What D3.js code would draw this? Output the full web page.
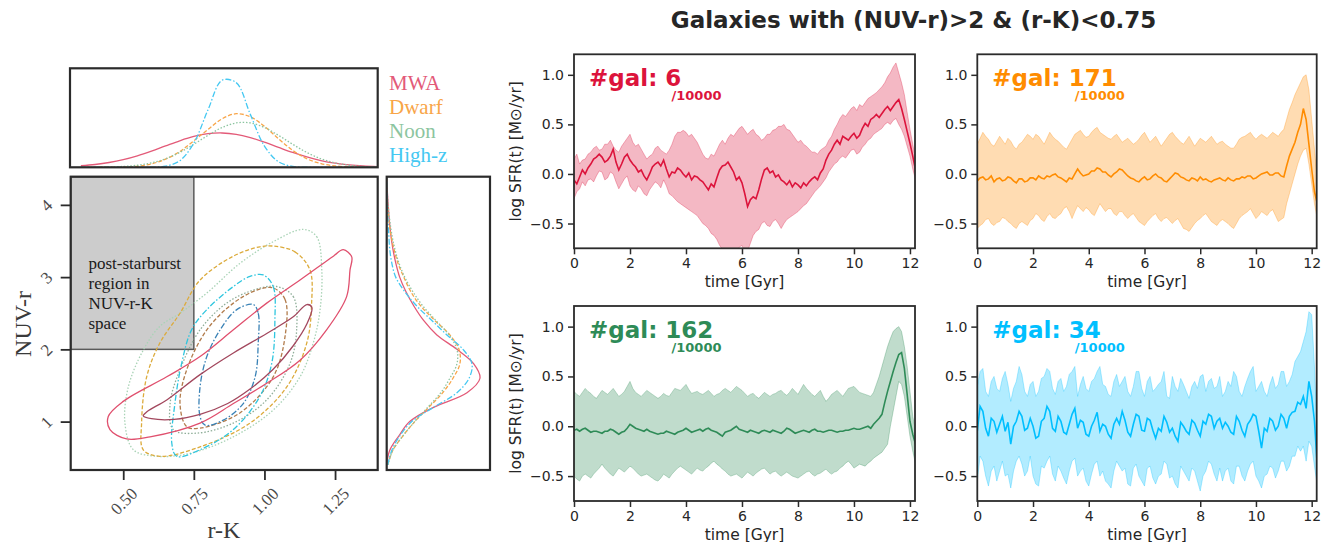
<!DOCTYPE html>
<html>
<head>
<meta charset="utf-8">
<script src="https://cdn.jsdelivr.net/npm/d3@7"></script>
<style>
  body { margin: 0; background: #fff; }
  svg { display: block; }
</style>
</head>
<body>
<svg id="fig" width="1327" height="542"></svg>
<script>
// ---------- left figure: colour-colour KDE ----------
const rkTicks = [0.5, 0.75, 1.0, 1.25];
const rkTickLabels = ["0.50", "0.75", "1.00", "1.25"];
const nuvTicks = [1, 2, 3, 4];
const nuvTickLabels = ["1", "2", "3", "4"];

// marginal KDE of r-K (top panel)
const rkGrid = [0.35, 0.40, 0.45, 0.50, 0.55, 0.60, 0.65, 0.70, 0.75, 0.80, 0.85,
                0.90, 0.95, 1.00, 1.05, 1.10, 1.15, 1.20, 1.25, 1.30, 1.35, 1.40];
const kdeTopMWA   = [0.091, 0.165, 0.281, 0.449, 0.674, 0.949, 1.253, 1.552, 1.805, 1.968, 2.010,
                     1.933, 1.741, 1.472, 1.167, 0.868, 0.606, 0.397, 0.244, 0.141, 0.076, 0.038];
const kdeTopDwarf = [0, 0.001, 0.005, 0.019, 0.06, 0.20, 0.48, 0.92, 1.55, 2.22, 2.84,
                     3.14, 2.96, 2.40, 1.67, 0.99, 0.50, 0.22, 0.08, 0.025, 0.007, 0.002];
const kdeTopNoon  = [0.002, 0.006, 0.019, 0.05, 0.12, 0.26, 0.50, 0.87, 1.35, 1.87, 2.33,
                     2.60, 2.60, 2.33, 1.87, 1.35, 0.87, 0.50, 0.26, 0.12, 0.05, 0.019];
const kdeTopHighz = [0, 0, 0, 0, 0.0001, 0.007, 0.066, 0.38, 1.42, 3.36, 5.10,
                     4.96, 3.10, 1.24, 0.32, 0.053, 0.006, 0, 0, 0, 0, 0];

// marginal KDE of NUV-r (right panel)
const nuvGrid = [0.4, 0.6, 0.8, 1.0, 1.2, 1.4, 1.6, 1.8, 2.0, 2.2, 2.4,
                 2.6, 2.8, 3.0, 3.2, 3.4, 3.6, 3.8, 4.0, 4.2, 4.4];
const kdeRightMWA   = [0.0, 0.02, 0.082, 0.156, 0.32, 0.544, 0.632, 0.59, 0.476, 0.34, 0.25,
                       0.184, 0.13, 0.088, 0.061, 0.041, 0.027, 0.017, 0.01, 0.004, 0];
const kdeRightDwarf = [0.007, 0.041, 0.109, 0.19, 0.286, 0.38, 0.449, 0.496, 0.49, 0.428, 0.326,
                       0.231, 0.163, 0.116, 0.075, 0.048, 0.027, 0.014, 0.005, 0.001, 0];
const kdeRightNoon  = [0.007, 0.041, 0.109, 0.19, 0.279, 0.367, 0.428, 0.476, 0.476, 0.422, 0.333,
                       0.245, 0.177, 0.122, 0.082, 0.054, 0.034, 0.02, 0.01, 0.003, 0];
const kdeRightHighz = [0.007, 0.034, 0.088, 0.17, 0.32, 0.476, 0.558, 0.578, 0.517, 0.408, 0.306,
                       0.204, 0.122, 0.061, 0.034, 0.02, 0.014, 0.008, 0.003, 0.001, 0];

// 2D KDE contours [r-K, NUV-r]
const mwaOuter = [[0.447,1.07],[0.453,0.89],[0.512,0.76],[0.595,0.79],[0.772,0.98],[0.890,1.25],
  [1.008,1.53],[1.126,1.85],[1.220,2.27],[1.291,2.73],[1.303,3.10],[1.309,3.28],[1.279,3.38],
  [1.244,3.29],[1.126,2.96],[1.008,2.64],[0.890,2.27],[0.772,1.90],[0.654,1.62],[0.500,1.28]];
const mwaInner = [[0.571,1.08],[0.600,1.04],[0.680,1.03],[0.772,1.10],[0.870,1.25],[0.949,1.45],
  [1.030,1.72],[1.102,2.05],[1.150,2.35],[1.168,2.58],[1.150,2.62],[1.102,2.45],[1.008,2.22],
  [0.890,1.95],[0.772,1.65],[0.654,1.30],[0.585,1.14]];
const dwarfOuter = [[1.031,3.43],[1.108,3.35],[1.161,3.10],[1.167,2.64],[1.150,2.09],[1.079,1.48],
  [0.949,0.98],[0.772,0.65],[0.630,0.52],[0.571,0.61],[0.565,0.98],[0.583,1.62],[0.630,2.09],
  [0.701,2.50],[0.772,2.96],[0.890,3.29],[0.984,3.42]];
const dwarfInner = [[1.031,2.85],[1.073,2.69],[1.073,2.18],[1.031,1.62],[0.913,1.12],[0.772,0.91],
  [0.725,0.93],[0.701,1.25],[0.725,1.72],[0.796,2.27],[0.890,2.64],[0.973,2.82]];
const noonOuter = [[1.138,3.66],[1.185,3.56],[1.203,3.10],[1.197,2.55],[1.173,2.09],[1.126,1.62],
  [1.031,1.16],[0.890,0.79],[0.736,0.56],[0.618,0.52],[0.536,0.61],[0.506,0.98],[0.518,1.48],
  [0.571,1.99],[0.630,2.32],[0.701,2.50],[0.796,2.78],[0.913,3.19],[1.031,3.49]];
const noonInner = [[1.043,2.87],[1.102,2.73],[1.114,2.27],[1.091,1.81],[1.008,1.30],[0.890,0.98],
  [0.760,0.84],[0.677,0.89],[0.666,1.25],[0.701,1.72],[0.772,2.27],[0.866,2.64],[0.961,2.82]];
const hzOuter = [[0.996,3.03],[1.031,2.87],[1.037,2.41],[1.026,1.81],[0.984,1.35],[0.890,0.89],
  [0.772,0.61],[0.689,0.52],[0.672,0.70],[0.683,1.25],[0.707,1.81],[0.742,2.27],[0.796,2.55],
  [0.890,2.87],[0.949,3.01]];
const hzInner = [[0.961,2.62],[0.978,2.50],[0.978,2.09],[0.967,1.62],[0.925,1.25],[0.854,1.02],
  [0.790,0.95],[0.772,1.07],[0.772,1.48],[0.796,1.90],[0.843,2.27],[0.902,2.55]];

// ---------- right figure: SFR histories (every 0.1 Gyr) ----------
const times = [0, 0.1, 0.2, 0.3, 0.4, 0.5, 0.6, 0.7, 0.8, 0.9,
  1.0, 1.1, 1.2, 1.3, 1.4, 1.5, 1.6, 1.7, 1.8, 1.9, 2.0, 2.1, 2.2, 2.3, 2.4, 2.5, 2.6, 2.7, 2.8, 2.9,
  3.0, 3.1, 3.2, 3.3, 3.4, 3.5, 3.6, 3.7, 3.8, 3.9, 4.0, 4.1, 4.2, 4.3, 4.4, 4.5, 4.6, 4.7, 4.8, 4.9,
  5.0, 5.1, 5.2, 5.3, 5.4, 5.5, 5.6, 5.7, 5.8, 5.9, 6.0, 6.1, 6.2, 6.3, 6.4, 6.5, 6.6, 6.7, 6.8, 6.9,
  7.0, 7.1, 7.2, 7.3, 7.4, 7.5, 7.6, 7.7, 7.8, 7.9, 8.0, 8.1, 8.2, 8.3, 8.4, 8.5, 8.6, 8.7, 8.8, 8.9,
  9.0, 9.1, 9.2, 9.3, 9.4, 9.5, 9.6, 9.7, 9.8, 9.9, 10.0, 10.1, 10.2, 10.3, 10.4, 10.5, 10.6, 10.7, 10.8, 10.9,
  11.0, 11.1, 11.2, 11.3, 11.4, 11.5, 11.6, 11.7, 11.8, 11.9, 12.0, 12.1, 12.2];
const sfrXTicks = [0, 2, 4, 6, 8, 10, 12];
const sfrYTicks = [-0.5, 0, 0.5, 1.0];

const mwaMean = [-0.06, -0.10, -0.03, 0.04, 0.00, 0.06, 0.10, 0.15, 0.17, 0.20,
  0.17, 0.12, 0.14, 0.18, 0.25, 0.12, 0.04, 0.10, 0.17, 0.20,
  0.14, 0.10, 0.07, 0.02, 0.04, -0.02, -0.06, 0.00, 0.07, 0.10,
  0.12, 0.08, 0.14, 0.05, -0.03, 0.02, 0.01, 0.06, 0.04, 0.00,
  -0.03, 0.01, -0.06, -0.02, -0.03, -0.06, -0.08, -0.12, -0.16, -0.10,
  -0.13, -0.04, 0.04, 0.08, 0.09, 0.12, 0.07, 0.02, -0.06, -0.03,
  -0.09, -0.20, -0.33, -0.26, -0.23, -0.25, -0.16, -0.05, 0.04, 0.06,
  0.01, 0.03, -0.03, -0.01, -0.06, -0.08, -0.11, -0.07, -0.13, -0.09,
  -0.11, -0.14, -0.09, -0.12, -0.08, -0.05, -0.03, -0.06, 0.01, 0.05,
  0.14, 0.20, 0.24, 0.30, 0.34, 0.30, 0.38, 0.36, 0.34, 0.38,
  0.41, 0.36, 0.39, 0.46, 0.51, 0.48, 0.55, 0.57, 0.60, 0.57,
  0.61, 0.65, 0.68, 0.64, 0.68, 0.72, 0.75, 0.66, 0.55, 0.43,
  0.31, 0.18, 0.04];
const mwaLo = [-0.25, -0.18, -0.15, -0.08, -0.12, -0.06, -0.05, -0.08, -0.02, 0.03,
  0.02, -0.06, -0.04, 0.02, 0.00, -0.08, -0.15, -0.10, -0.05, -0.02,
  -0.12, -0.16, -0.18, -0.12, -0.15, -0.20, -0.22, -0.16, -0.12, -0.08,
  -0.10, -0.14, -0.06, -0.12, -0.20, -0.22, -0.25, -0.28, -0.30, -0.32,
  -0.34, -0.36, -0.38, -0.40, -0.42, -0.46, -0.50, -0.52, -0.55, -0.60,
  -0.62, -0.66, -0.72, -0.76, -0.80, -0.84, -0.82, -0.80, -0.78, -0.74,
  -0.72, -0.80, -0.78, -0.70, -0.62, -0.58, -0.56, -0.50, -0.48, -0.52,
  -0.53, -0.48, -0.46, -0.50, -0.55, -0.50, -0.46, -0.44, -0.42, -0.40,
  -0.38, -0.35, -0.32, -0.30, -0.26, -0.22, -0.18, -0.15, -0.12, -0.08,
  -0.04, 0.02, 0.06, 0.10, 0.12, 0.16, 0.18, 0.16, 0.20, 0.24,
  0.25, 0.20, 0.22, 0.27, 0.30, 0.34, 0.36, 0.40, 0.42, 0.44,
  0.46, 0.50, 0.52, 0.50, 0.54, 0.56, 0.50, 0.45, 0.38, 0.28,
  0.18, 0.05, -0.06];
const mwaHi = [0.15, 0.20, 0.10, 0.14, 0.15, 0.20, 0.22, 0.26, 0.28, 0.24,
  0.25, 0.30, 0.30, 0.34, 0.28, 0.24, 0.22, 0.28, 0.32, 0.36,
  0.40, 0.32, 0.28, 0.30, 0.25, 0.20, 0.15, 0.18, 0.20, 0.26,
  0.28, 0.24, 0.22, 0.20, 0.24, 0.30, 0.38, 0.42, 0.42, 0.44,
  0.42, 0.38, 0.40, 0.36, 0.32, 0.26, 0.20, 0.16, 0.15, 0.20,
  0.18, 0.24, 0.30, 0.34, 0.30, 0.36, 0.40, 0.38, 0.42, 0.46,
  0.48, 0.44, 0.40, 0.43, 0.45, 0.40, 0.38, 0.34, 0.36, 0.40,
  0.40, 0.44, 0.45, 0.48, 0.48, 0.50, 0.45, 0.44, 0.40, 0.36,
  0.32, 0.34, 0.30, 0.28, 0.25, 0.22, 0.22, 0.20, 0.24, 0.26,
  0.28, 0.34, 0.38, 0.45, 0.50, 0.56, 0.60, 0.58, 0.62, 0.66,
  0.68, 0.64, 0.70, 0.68, 0.72, 0.76, 0.78, 0.80, 0.82, 0.85,
  0.88, 0.92, 0.98, 1.02, 1.08, 1.12, 1.02, 0.92, 0.80, 0.62,
  0.45, 0.30, 0.15];

const dwarfMean = [-0.07, -0.04, -0.03, -0.06, -0.05, -0.02, -0.08, -0.05, -0.04, -0.07,
  -0.06, -0.03, -0.04, -0.07, -0.09, -0.05, -0.05, -0.08, -0.07, -0.04,
  -0.04, -0.06, -0.02, -0.04, -0.05, -0.02, -0.03, -0.01, 0.00, -0.03,
  -0.04, -0.06, -0.08, -0.04, -0.05, 0.00, 0.05, 0.01, -0.02, -0.01,
  0.00, 0.03, 0.03, 0.06, 0.05, 0.02, 0.02, -0.01, -0.03, 0.00,
  0.02, 0.05, 0.04, 0.01, -0.02, -0.04, -0.05, -0.07, -0.08, -0.05,
  -0.03, -0.06, -0.05, -0.02, 0.00, -0.03, -0.04, -0.07, -0.08, -0.05,
  -0.02, 0.01, 0.00, -0.03, -0.04, -0.06, -0.07, -0.04, -0.05, -0.07,
  -0.03, -0.06, -0.05, -0.07, -0.08, -0.06, -0.05, -0.04, -0.06, -0.07,
  -0.04, -0.06, -0.07, -0.05, -0.05, -0.03, -0.04, -0.02, -0.02, -0.05,
  -0.04, -0.02, 0.00, 0.01, 0.02, -0.01, -0.01, 0.01, 0.01, -0.02,
  -0.03, 0.08, 0.18, 0.25, 0.32, 0.42, 0.50, 0.66, 0.55, 0.30,
  0.05, -0.18, -0.30];
const dwarfLo = [-0.55, -0.52, -0.50, -0.46, -0.45, -0.50, -0.52, -0.49, -0.48, -0.44,
  -0.45, -0.48, -0.50, -0.53, -0.55, -0.50, -0.48, -0.50, -0.52, -0.47,
  -0.45, -0.40, -0.42, -0.46, -0.48, -0.43, -0.40, -0.44, -0.45, -0.42,
  -0.40, -0.35, -0.33, -0.38, -0.45, -0.38, -0.32, -0.35, -0.38, -0.34,
  -0.36, -0.40, -0.42, -0.36, -0.30, -0.34, -0.38, -0.35, -0.35, -0.40,
  -0.42, -0.38, -0.38, -0.42, -0.45, -0.42, -0.40, -0.44, -0.48, -0.50,
  -0.52, -0.48, -0.45, -0.42, -0.40, -0.45, -0.48, -0.45, -0.44, -0.47,
  -0.50, -0.47, -0.45, -0.50, -0.55, -0.56, -0.58, -0.54, -0.50, -0.47,
  -0.45, -0.42, -0.40, -0.44, -0.48, -0.50, -0.52, -0.48, -0.46, -0.48,
  -0.50, -0.53, -0.55, -0.50, -0.45, -0.42, -0.40, -0.38, -0.35, -0.40,
  -0.45, -0.42, -0.38, -0.40, -0.42, -0.38, -0.36, -0.42, -0.48, -0.46,
  -0.44, -0.30, -0.20, -0.10, 0.00, 0.10, 0.18, 0.24, 0.26, 0.10,
  -0.10, -0.30, -0.45];
const dwarfHi = [0.30, 0.36, 0.42, 0.38, 0.35, 0.30, 0.28, 0.33, 0.38, 0.34,
  0.30, 0.36, 0.33, 0.28, 0.25, 0.30, 0.32, 0.36, 0.40, 0.38,
  0.35, 0.40, 0.38, 0.34, 0.30, 0.36, 0.42, 0.38, 0.35, 0.33,
  0.30, 0.27, 0.25, 0.30, 0.35, 0.40, 0.42, 0.44, 0.40, 0.37,
  0.38, 0.42, 0.45, 0.47, 0.42, 0.40, 0.38, 0.36, 0.35, 0.38,
  0.40, 0.36, 0.32, 0.34, 0.36, 0.33, 0.30, 0.32, 0.35, 0.39,
  0.42, 0.37, 0.32, 0.35, 0.38, 0.33, 0.28, 0.32, 0.36, 0.40,
  0.42, 0.38, 0.35, 0.32, 0.30, 0.34, 0.38, 0.33, 0.28, 0.32,
  0.36, 0.34, 0.32, 0.35, 0.38, 0.34, 0.30, 0.32, 0.33, 0.30,
  0.28, 0.26, 0.26, 0.30, 0.35, 0.37, 0.38, 0.40, 0.42, 0.38,
  0.35, 0.38, 0.40, 0.38, 0.36, 0.39, 0.42, 0.40, 0.38, 0.42,
  0.45, 0.55, 0.65, 0.72, 0.80, 0.86, 0.92, 0.98, 1.00, 0.85,
  0.55, 0.25, -0.05];

const noonMean = [-0.04, -0.03, -0.05, -0.03, -0.02, -0.04, -0.06, -0.05, -0.05, -0.06,
  -0.07, -0.05, -0.05, -0.03, -0.04, -0.06, -0.08, -0.06, -0.05, -0.02,
  0.02, 0.00, -0.02, -0.03, -0.04, -0.05, -0.03, -0.05, -0.06, -0.07,
  -0.08, -0.07, -0.07, -0.05, -0.06, -0.07, -0.08, -0.06, -0.05, -0.04,
  -0.02, -0.04, -0.06, -0.05, -0.04, -0.03, -0.05, -0.03, -0.02, -0.04,
  -0.05, -0.06, -0.08, -0.10, -0.06, -0.05, -0.04, -0.02, 0.00, -0.03,
  -0.04, -0.05, -0.06, -0.04, -0.05, -0.06, -0.07, -0.05, -0.04, -0.05,
  -0.06, -0.04, -0.05, -0.06, -0.07, -0.05, -0.02, -0.03, -0.05, -0.07,
  -0.06, -0.05, -0.04, -0.05, -0.06, -0.04, -0.03, -0.05, -0.05, -0.06,
  -0.05, -0.04, -0.04, -0.05, -0.06, -0.05, -0.05, -0.04, -0.04, -0.03,
  -0.02, -0.03, -0.03, -0.02, -0.01, 0.00, -0.02, 0.02, 0.05, 0.08,
  0.12, 0.24, 0.35, 0.45, 0.55, 0.64, 0.72, 0.74, 0.58, 0.32,
  0.05, -0.08, -0.18];
const noonLo = [-0.50, -0.53, -0.55, -0.50, -0.48, -0.50, -0.52, -0.48, -0.45, -0.42,
  -0.38, -0.42, -0.45, -0.48, -0.50, -0.46, -0.42, -0.44, -0.46, -0.43,
  -0.40, -0.42, -0.45, -0.48, -0.50, -0.49, -0.48, -0.50, -0.52, -0.54,
  -0.55, -0.52, -0.48, -0.50, -0.52, -0.48, -0.45, -0.42, -0.40, -0.42,
  -0.44, -0.46, -0.48, -0.45, -0.42, -0.44, -0.45, -0.42, -0.40, -0.37,
  -0.35, -0.38, -0.40, -0.43, -0.45, -0.48, -0.50, -0.49, -0.48, -0.50,
  -0.52, -0.49, -0.46, -0.48, -0.50, -0.47, -0.45, -0.43, -0.42, -0.45,
  -0.48, -0.46, -0.45, -0.48, -0.50, -0.48, -0.46, -0.48, -0.50, -0.51,
  -0.52, -0.50, -0.48, -0.46, -0.45, -0.48, -0.50, -0.48, -0.47, -0.45,
  -0.43, -0.46, -0.48, -0.46, -0.45, -0.42, -0.40, -0.37, -0.35, -0.38,
  -0.42, -0.40, -0.38, -0.39, -0.40, -0.37, -0.35, -0.32, -0.30, -0.28,
  -0.26, -0.22, -0.18, 0.00, 0.15, 0.30, 0.45, 0.42, 0.30, 0.10,
  -0.10, -0.25, -0.38];
const noonHi = [0.35, 0.32, 0.30, 0.34, 0.38, 0.35, 0.33, 0.30, 0.28, 0.32,
  0.36, 0.34, 0.32, 0.35, 0.38, 0.34, 0.30, 0.32, 0.35, 0.40,
  0.45, 0.38, 0.34, 0.32, 0.30, 0.33, 0.36, 0.34, 0.32, 0.30,
  0.28, 0.30, 0.33, 0.31, 0.30, 0.34, 0.38, 0.37, 0.36, 0.39,
  0.42, 0.37, 0.33, 0.34, 0.35, 0.33, 0.32, 0.34, 0.36, 0.33,
  0.30, 0.32, 0.33, 0.36, 0.38, 0.36, 0.34, 0.37, 0.40, 0.38,
  0.36, 0.33, 0.30, 0.32, 0.33, 0.30, 0.28, 0.31, 0.34, 0.32,
  0.30, 0.32, 0.33, 0.35, 0.36, 0.33, 0.31, 0.34, 0.38, 0.35,
  0.32, 0.37, 0.42, 0.38, 0.35, 0.32, 0.30, 0.33, 0.36, 0.30,
  0.25, 0.28, 0.32, 0.34, 0.36, 0.33, 0.30, 0.34, 0.38, 0.39,
  0.40, 0.37, 0.34, 0.33, 0.32, 0.31, 0.30, 0.34, 0.42, 0.50,
  0.60, 0.70, 0.80, 0.88, 0.95, 0.98, 1.00, 0.95, 0.80, 0.60,
  0.35, 0.10, -0.05];

const hzMean = [-0.05, 0.20, 0.15, -0.02, -0.10, 0.08, 0.05, -0.06, 0.02, 0.10,
  -0.05, 0.04, -0.18, 0.00, 0.05, 0.15, 0.10, -0.04, -0.02, 0.08,
  0.00, -0.12, -0.10, 0.05, 0.08, 0.20, 0.15, -0.02, -0.05, 0.10,
  0.05, -0.06, -0.08, 0.02, 0.12, 0.18, -0.02, 0.06, 0.04, -0.08,
  -0.10, 0.00, 0.06, 0.14, -0.05, 0.02, 0.00, -0.08, -0.12, 0.02,
  0.08, 0.02, 0.15, 0.06, -0.06, -0.10, 0.02, 0.12, 0.10, -0.04,
  -0.05, 0.08, 0.06, -0.04, -0.12, -0.02, -0.05, 0.10, 0.04, -0.06,
  -0.02, -0.10, -0.15, 0.04, 0.00, -0.05, -0.08, 0.06, 0.03, -0.04,
  -0.10, 0.05, 0.02, 0.12, 0.10, -0.02, 0.05, 0.08, -0.02, 0.04,
  0.00, -0.06, -0.08, 0.10, 0.05, -0.04, -0.10, 0.02, 0.06, 0.12,
  0.10, -0.05, -0.22, -0.02, -0.05, 0.08, 0.05, -0.04, 0.00, 0.12,
  0.08, -0.02, 0.10, 0.14, 0.15, 0.24, 0.22, 0.30, 0.18, 0.45,
  0.30, 0.05, -0.40];
const hzLo = [-0.55, -0.30, -0.35, -0.50, -0.60, -0.45, -0.40, -0.55, -0.45, -0.35,
  -0.50, -0.48, -0.62, -0.45, -0.35, -0.30, -0.38, -0.50, -0.45, -0.30,
  -0.50, -0.58, -0.60, -0.40, -0.42, -0.35, -0.30, -0.48, -0.55, -0.40,
  -0.45, -0.52, -0.58, -0.45, -0.35, -0.32, -0.50, -0.45, -0.42, -0.55,
  -0.60, -0.48, -0.38, -0.35, -0.50, -0.45, -0.55, -0.58, -0.62, -0.45,
  -0.35, -0.40, -0.45, -0.42, -0.58, -0.60, -0.42, -0.38, -0.50, -0.55,
  -0.60, -0.42, -0.40, -0.52, -0.58, -0.50, -0.48, -0.35, -0.38, -0.52,
  -0.50, -0.58, -0.62, -0.40, -0.45, -0.50, -0.55, -0.42, -0.45, -0.55,
  -0.65, -0.50, -0.45, -0.35, -0.38, -0.48, -0.55, -0.42, -0.55, -0.45,
  -0.42, -0.55, -0.58, -0.40, -0.40, -0.50, -0.55, -0.45, -0.38, -0.35,
  -0.50, -0.55, -0.62, -0.50, -0.48, -0.40, -0.42, -0.52, -0.45, -0.35,
  -0.35, -0.45, -0.40, -0.30, -0.30, -0.20, -0.25, -0.20, -0.35, -0.15,
  -0.20, -0.40, -0.60];
const hzHi = [0.40, 0.55, 0.58, 0.35, 0.30, 0.45, 0.50, 0.38, 0.35, 0.48,
  0.55, 0.42, 0.25, 0.38, 0.45, 0.60, 0.52, 0.35, 0.30, 0.42,
  0.45, 0.30, 0.35, 0.48, 0.50, 0.58, 0.55, 0.38, 0.32, 0.45,
  0.48, 0.35, 0.40, 0.52, 0.55, 0.60, 0.30, 0.42, 0.50, 0.38,
  0.35, 0.45, 0.48, 0.55, 0.60, 0.42, 0.40, 0.32, 0.30, 0.45,
  0.52, 0.40, 0.45, 0.50, 0.35, 0.30, 0.40, 0.55, 0.55, 0.38,
  0.30, 0.45, 0.50, 0.35, 0.38, 0.42, 0.45, 0.55, 0.30, 0.28,
  0.50, 0.40, 0.35, 0.48, 0.42, 0.35, 0.28, 0.40, 0.45, 0.38,
  0.50, 0.52, 0.35, 0.45, 0.48, 0.38, 0.40, 0.50, 0.30, 0.35,
  0.45, 0.40, 0.55, 0.50, 0.35, 0.30, 0.40, 0.48, 0.55, 0.60,
  0.35, 0.40, 0.45, 0.35, 0.30, 0.42, 0.50, 0.38, 0.42, 0.55,
  0.55, 0.40, 0.45, 0.52, 0.65, 0.70, 0.75, 0.85, 0.95, 1.15,
  1.12, 0.60, -0.10];

const galCounts = [6, 171, 162, 34];

// ---------- drawing ----------
const svg = d3.select("#fig");
const serif = "'Liberation Serif', 'Times New Roman', serif";
const sans = "'DejaVu Sans', sans-serif";
const frameColor = "#2b2b2b";

const defs = svg.append("defs");
function clipRect(id, x0, y0, x1, y1) {
  defs.append("clipPath").attr("id", id)
    .append("rect").attr("x", x0).attr("y", y0).attr("width", x1 - x0).attr("height", y1 - y0);
  return `url(#${id})`;
}

// left scales
const xRK = d3.scaleLinear().domain([0.314, 1.401]).range([70.7, 377.7]);
const yNUV = d3.scaleLinear().domain([0.33, 4.39]).range([470, 176.7]);
const yTop = d3.scaleLinear().domain([0, 5.8]).range([167.3, 68.3]);
const xRight = d3.scaleLinear().domain([0, 0.70]).range([386.7, 490]);

// grey post-starburst region
svg.append("rect")
  .attr("x", xRK(0.314)).attr("y", yNUV(4.39))
  .attr("width", xRK(0.75) - xRK(0.314)).attr("height", yNUV(2) - yNUV(4.39))
  .attr("fill", "#cccccc").attr("stroke", "#5a5a5a").attr("stroke-width", 1.5);

const psText = ["post-starburst", "region in", "NUV-r-K", "space"];
svg.append("g").selectAll("text").data(psText).enter().append("text")
  .attr("x", 88.5).attr("y", (d, i) => 268.5 + i * 20.3)
  .attr("font-family", serif).attr("font-size", "17px").attr("fill", "#1a1a1a")
  .text(d => d);

// contours
const contourLine = d3.line().x(d => xRK(d[0])).y(d => yNUV(d[1]))
  .curve(d3.curveCatmullRomClosed.alpha(0.5));
const contours = [
  { pts: noonOuter, color: "#a9d3b6", dash: "1.5,1.8" },
  { pts: noonInner, color: "#8fae99", dash: "1.5,1.8" },
  { pts: dwarfOuter, color: "#dcab3c", dash: "4,2" },
  { pts: dwarfInner, color: "#b27c4c", dash: "4,2" },
  { pts: hzOuter, color: "#2fc6df", dash: "6,2,1.5,2" },
  { pts: hzInner, color: "#3a82b6", dash: "6,2,1.5,2" },
  { pts: mwaOuter, color: "#e0506e", dash: null },
  { pts: mwaInner, color: "#a3485e", dash: null }
];
const mainClip = clipRect("clipMain", 70.7, 176.7, 377.7, 470);
svg.append("g").attr("clip-path", mainClip).selectAll("path").data(contours).enter()
  .append("path")
  .attr("d", d => contourLine(d.pts))
  .attr("fill", "none").attr("stroke", d => d.color).attr("stroke-width", 1.3)
  .attr("stroke-dasharray", d => d.dash);

// main frame + ticks
svg.append("rect").attr("x", 70.7).attr("y", 176.7).attr("width", 307).attr("height", 293.3)
  .attr("fill", "none").attr("stroke", frameColor).attr("stroke-width", 2.2);

const xAxL = svg.append("g").attr("transform", "translate(0,470)")
  .call(d3.axisBottom(xRK).tickValues(rkTicks).tickSize(10).tickFormat((d, i) => rkTickLabels[i]));
xAxL.select(".domain").remove();
xAxL.selectAll("line").attr("stroke", frameColor).attr("stroke-width", 1.8);
xAxL.selectAll("text").attr("y", 0).attr("dy", "0.35em")
  .attr("transform", "translate(0,31) rotate(-45)")
  .attr("font-family", serif).attr("font-size", "17px").attr("fill", "#4a4a4a");

const yAxL = svg.append("g").attr("transform", "translate(70.7,0)")
  .call(d3.axisLeft(yNUV).tickValues(nuvTicks).tickSize(10).tickFormat((d, i) => nuvTickLabels[i]));
yAxL.select(".domain").remove();
yAxL.selectAll("line").attr("stroke", frameColor).attr("stroke-width", 1.8);
yAxL.selectAll("text").attr("x", 0).attr("dy", "0.35em").attr("text-anchor", "middle")
  .attr("transform", "translate(-24.5,0) rotate(-45)")
  .attr("font-family", serif).attr("font-size", "17px").attr("fill", "#4a4a4a");

svg.append("text").attr("x", 224).attr("y", 538).attr("text-anchor", "middle")
  .attr("font-family", serif).attr("font-size", "24px").attr("fill", "#3a3a3a").text("r-K");
svg.append("text").attr("transform", "translate(31,324) rotate(-90)").attr("text-anchor", "middle")
  .attr("font-family", serif).attr("font-size", "24px").attr("fill", "#3a3a3a").text("NUV-r");

// marginal KDEs
const margStyles = [
  { name: "MWA", color: "#e35a78", dash: null, top: kdeTopMWA, right: kdeRightMWA },
  { name: "Dwarf", color: "#f8a548", dash: "4,2", top: kdeTopDwarf, right: kdeRightDwarf },
  { name: "Noon", color: "#8cc5a0", dash: "1.5,1.8", top: kdeTopNoon, right: kdeRightNoon },
  { name: "High-z", color: "#45c8f2", dash: "6,2,1.5,2", top: kdeTopHighz, right: kdeRightHighz }
];
const topClip = clipRect("clipTop", 70, 68.3, 377.7, 167.3);
const topLine = d3.line().x((d, i) => xRK(rkGrid[i])).y(d => yTop(d))
  .curve(d3.curveCatmullRom.alpha(0.5));
svg.append("g").attr("clip-path", topClip).selectAll("path").data(margStyles).enter()
  .append("path").attr("d", d => topLine(d.top))
  .attr("fill", "none").attr("stroke", d => d.color).attr("stroke-width", 1.3)
  .attr("stroke-dasharray", d => d.dash);
svg.append("rect").attr("x", 70).attr("y", 68.3).attr("width", 307.7).attr("height", 99)
  .attr("fill", "none").attr("stroke", frameColor).attr("stroke-width", 2.2);

const rightClip = clipRect("clipRight", 386.7, 176.7, 490, 470);
const rightLine = d3.line().x(d => xRight(d)).y((d, i) => yNUV(nuvGrid[i]))
  .curve(d3.curveCatmullRom.alpha(0.5));
svg.append("g").attr("clip-path", rightClip).selectAll("path").data(margStyles).enter()
  .append("path").attr("d", d => rightLine(d.right))
  .attr("fill", "none").attr("stroke", d => d.color).attr("stroke-width", 1.3)
  .attr("stroke-dasharray", d => d.dash);
svg.append("rect").attr("x", 386.7).attr("y", 176.7).attr("width", 103.3).attr("height", 293.3)
  .attr("fill", "none").attr("stroke", frameColor).attr("stroke-width", 2.2);

// legend
svg.append("g").selectAll("text").data(margStyles).enter().append("text")
  .attr("x", 389).attr("y", (d, i) => 90 + i * 24)
  .attr("font-family", serif).attr("font-size", "21px").attr("fill", d => d.color)
  .text(d => d.name);

// ---------- SFR panels ----------
svg.append("text").attr("x", 913.5).attr("y", 28).attr("text-anchor", "middle")
  .attr("font-family", sans).attr("font-weight", "bold").attr("font-size", "23px")
  .attr("fill", "#262626").text("Galaxies with (NUV-r)>2 & (r-K)<0.75");

const panels = [
  { x0: 574, x1: 915, y0: 54.3, y1: 248.3, mean: mwaMean, lo: mwaLo, hi: mwaHi, color: "#dc143c", n: galCounts[0], ylab: true },
  { x0: 977.3, x1: 1316.7, y0: 54.3, y1: 248.3, mean: dwarfMean, lo: dwarfLo, hi: dwarfHi, color: "#ff8c00", n: galCounts[1], ylab: false },
  { x0: 574, x1: 915, y0: 306, y1: 501, mean: noonMean, lo: noonLo, hi: noonHi, color: "#2e8b57", n: galCounts[2], ylab: true },
  { x0: 977.3, x1: 1316.7, y0: 306, y1: 501, mean: hzMean, lo: hzLo, hi: hzHi, color: "#00bfff", n: galCounts[3], ylab: false }
];

panels.forEach((p, k) => {
  const x = d3.scaleLinear().domain([0, 12.18]).range([p.x0, p.x1]);
  const y = d3.scaleLinear().domain([-0.75, 1.207]).range([p.y1, p.y0]);
  const clip = clipRect("clipSfr" + k, p.x0, p.y0, p.x1, p.y1);
  const g = svg.append("g").attr("clip-path", clip);

  const band = d3.area().x((d, i) => x(times[i])).y0(d => y(d)).y1((d, i) => y(p.hi[i]));
  g.append("path").attr("d", band(p.lo))
    .attr("fill", p.color).attr("fill-opacity", 0.3)
    .attr("stroke", p.color).attr("stroke-opacity", 0.3).attr("stroke-width", 1);

  const line = d3.line().x((d, i) => x(times[i])).y(d => y(d));
  g.append("path").attr("d", line(p.mean))
    .attr("fill", "none").attr("stroke", p.color).attr("stroke-width", 1.6);

  const ax = svg.append("g").attr("transform", `translate(0,${p.y1})`)
    .call(d3.axisBottom(x).tickValues(sfrXTicks).tickSize(6).tickPadding(4).tickFormat(d3.format("d")));
  const ay = svg.append("g").attr("transform", `translate(${p.x0},0)`)
    .call(d3.axisLeft(y).tickValues(sfrYTicks).tickSize(6).tickPadding(4).tickFormat(d3.format(".1f")));
  [ax, ay].forEach(a => {
    a.select(".domain").remove();
    a.selectAll("line").attr("stroke", frameColor).attr("stroke-width", 1.5);
    a.selectAll("text").attr("font-family", sans).attr("font-size", "14px").attr("fill", "#262626");
  });

  svg.append("rect").attr("x", p.x0).attr("y", p.y0)
    .attr("width", p.x1 - p.x0).attr("height", p.y1 - p.y0)
    .attr("fill", "none").attr("stroke", frameColor).attr("stroke-width", 1.8);

  svg.append("text").attr("x", (p.x0 + p.x1) / 2).attr("y", p.y1 + 39).attr("text-anchor", "middle")
    .attr("font-family", sans).attr("font-size", "15.5px").attr("fill", "#262626").text("time [Gyr]");
  if (p.ylab) {
    svg.append("text").attr("transform", `translate(${p.x0 - 53},${(p.y0 + p.y1) / 2}) rotate(-90)`)
      .attr("text-anchor", "middle").attr("font-family", sans).attr("font-size", "15.5px")
      .attr("fill", "#262626").text("log SFR(t) [M\u2299/yr]");
  }

  svg.append("text").attr("x", p.x0 + 15).attr("y", p.y0 + 32)
    .attr("font-family", sans).attr("font-weight", "bold").attr("font-size", "23px")
    .attr("fill", p.color).text("#gal: " + p.n);
  svg.append("text").attr("x", p.x0 + 97.5).attr("y", p.y0 + 46)
    .attr("font-family", sans).attr("font-weight", "bold").attr("font-size", "13px")
    .attr("fill", p.color).text("/10000");
});
</script>
</body>
</html>
